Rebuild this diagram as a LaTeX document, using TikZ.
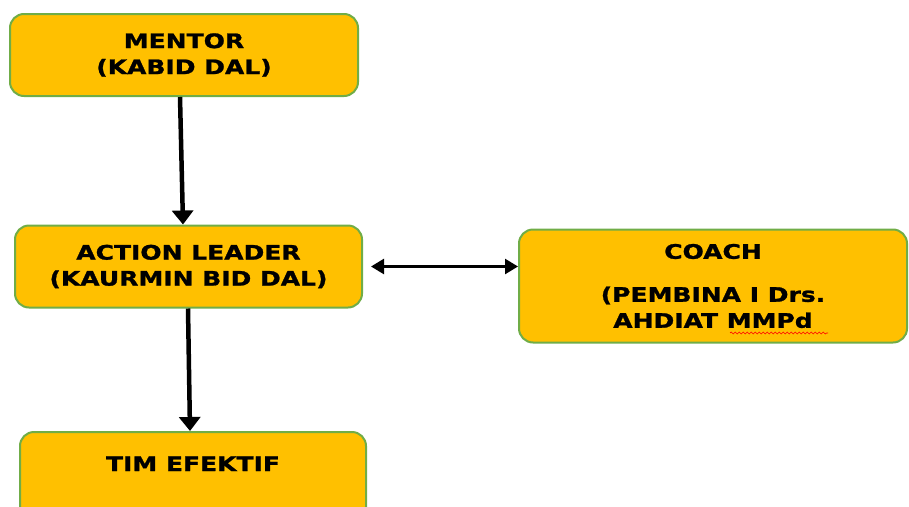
\documentclass[tikz,border=0pt]{standalone}
\usepackage{fontspec}
\newfontfamily\boxfont{DejaVu Sans}[FakeStretch=1.25, BoldFeatures={FakeBold=1.2}]
\usepackage{tikz}
\usetikzlibrary{arrows.meta,positioning,decorations.pathmorphing}
\definecolor{boxfill}{RGB}{255,192,0}
\definecolor{boxline}{RGB}{112,173,71}

\tikzset{
  card/.style={draw=boxline, line width=2pt, fill=boxfill, rounded corners=14pt,
    align=center, inner sep=0pt, font=\boxfont\bfseries\fontsize{20}{26}\selectfont},
  link/.style={line width=4.5pt, -{Triangle[width=21pt,length=14pt]}},
}

\begin{document}
\begin{tikzpicture}[x=1pt,y=-1pt]
  \useasboundingbox (0,0) rectangle (909,506);
  \clip (0,0) rectangle (909,506);

  % Boxes
  \node[card, minimum width=348pt, minimum height=82pt] (mentor) at (184,55) {MENTOR\\(KABID DAL)};
  \node[card, minimum width=347pt, minimum height=82pt] (leader) at (188.5,266.5) {ACTION LEADER\\(KAURMIN BID DAL)};
  \node[card, minimum width=388pt, minimum height=113pt] (coach) at (713,286) {COACH\\[17pt](PEMBINA I Drs.\\AHDIAT MMPd};
  \node[card, minimum width=346pt, anchor=north, text height=39pt, text depth=80pt] (tim) at (193,431) {TIM EFEKTIF};

  % Arrows
  \draw[link] ([xshift=-4pt]mentor.south) -- ([xshift=-5.5pt]leader.north);
  \draw[link] ([xshift=-0.5pt]leader.south) -- ([xshift=-3pt]tim.north);
  \draw[line width=2.5pt, {Triangle[width=15pt,length=13pt]}-{Triangle[width=15pt,length=13pt]}, shorten <=8pt]
    (leader.east) -- (leader.east -| coach.west);

  % spell check mark
  \draw[red, line width=0.6pt, decorate, decoration={snake, amplitude=1pt, segment length=4pt}] (730,333) -- (828,333);
\end{tikzpicture}
\end{document}
